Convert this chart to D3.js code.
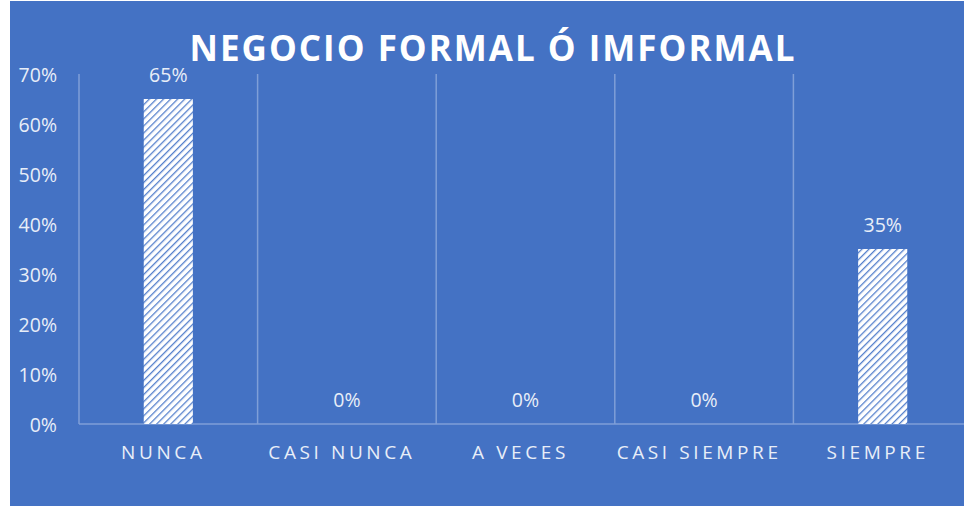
<!DOCTYPE html>
<html><head><meta charset="utf-8">
<script src="https://cdn.jsdelivr.net/npm/d3@7"></script>
<style>html,body{margin:0;padding:0;background:#fff;}svg{display:block;}</style>
</head><body>
<svg id="c" width="964" height="506"></svg>
<script>
const categories = ["NUNCA", "CASI NUNCA", "A VECES", "CASI SIEMPRE", "SIEMPRE"];
const values = [0.65, 0, 0, 0, 0.35];
const yTicks = [0, 0.1, 0.2, 0.3, 0.4, 0.5, 0.6, 0.7];
const title = "NEGOCIO FORMAL Ó IMFORMAL";

(function () {
const svg = d3.select("#c");
const W = 964, H = 506;
const blue = "#4472C4";
const grid = "#7f9fd8";
const txt = "#e8eef8";
const font = "Open Sans, sans-serif";

svg.append("rect").attr("x", 10).attr("y", 1).attr("width", W - 10).attr("height", H - 1).attr("fill", blue);

const defs = svg.append("defs");
const pat = defs.append("pattern").attr("id", "hatch").attr("patternUnits", "userSpaceOnUse")
  .attr("width", 5).attr("height", 5).attr("patternTransform", "rotate(45)");
pat.append("rect").attr("width", 5).attr("height", 5).attr("fill", "#ffffff");
pat.append("rect").attr("x", 0).attr("y", 0).attr("width", 1.3).attr("height", 5).attr("fill", "#5580cc");

const mL = 79, mR = 972, mT = 74, mB = 424;
const x = d3.scaleBand().domain(categories).range([mL, mR]).paddingInner(0).paddingOuter(0);
const y = d3.scaleLinear().domain([0, 0.7]).range([mB, mT]);

const bounds = categories.map(c => x(c)).concat([x(categories[categories.length - 1]) + x.bandwidth()]);
svg.append("g").selectAll("line").data(bounds).join("line")
  .attr("x1", d => d).attr("x2", d => d).attr("y1", y(0.7)).attr("y2", y(0))
  .attr("stroke", grid).attr("stroke-width", 1.5);

svg.append("line").attr("x1", mL).attr("x2", mR).attr("y1", y(0)).attr("y2", y(0))
  .attr("stroke", grid).attr("stroke-width", 1.5);

const bw = x.bandwidth() * 0.275;
svg.append("g").selectAll("rect").data(values).join("rect")
  .attr("x", (d, i) => x(categories[i]) + x.bandwidth() / 2 - bw / 2)
  .attr("y", d => y(d))
  .attr("width", bw)
  .attr("height", d => y(0) - y(d))
  .attr("fill", "url(#hatch)");

svg.append("g").selectAll("text").data(values).join("text")
  .attr("x", (d, i) => x(categories[i]) + x.bandwidth() / 2)
  .attr("y", d => y(d) - 17)
  .attr("text-anchor", "middle")
  .attr("font-family", font).attr("font-size", 19.5)
  .attr("fill", txt)
  .text(d => d3.format(".0%")(d));

const yAxis = d3.axisLeft(y).tickValues(yTicks).tickFormat(d3.format(".0%")).tickSize(0).tickPadding(0);
const ya = svg.append("g").attr("transform", `translate(57,0)`).call(yAxis);
ya.select(".domain").remove();
ya.selectAll("text").attr("font-family", font).attr("font-size", 19.5)
  .attr("fill", txt).attr("dy", "0.36em");

const xAxis = d3.axisBottom(x).tickSize(0).tickPadding(0);
const xa = svg.append("g").attr("transform", `translate(0,459)`).call(xAxis);
xa.select(".domain").remove();
xa.selectAll("text").attr("font-family", font).attr("font-size", 19)
  .attr("fill", txt).attr("letter-spacing", "3.6px").attr("dy", 0).attr("dx", -5);

svg.append("text").attr("x", 493).attr("y", 61).attr("text-anchor", "middle")
  .attr("font-family", font).attr("font-weight", "bold").attr("font-size", 35)
  .attr("letter-spacing", "2px")
  .attr("fill", "#ffffff").text(title);
})();
</script>
</body></html>
